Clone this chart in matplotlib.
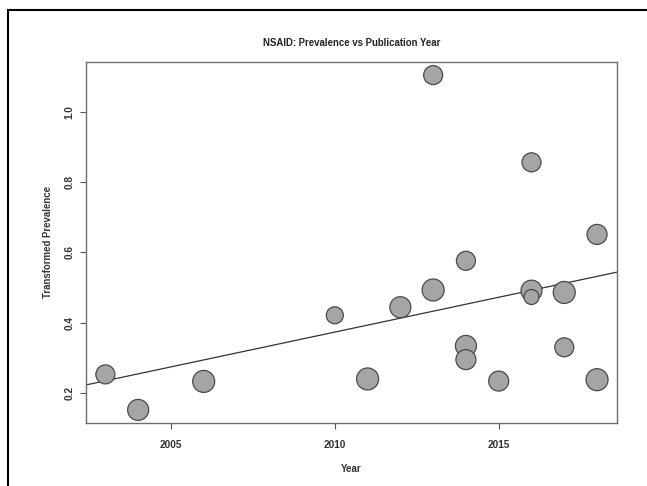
import matplotlib
matplotlib.use("Agg")
import matplotlib.pyplot as plt
from matplotlib.patches import Rectangle
import numpy as np

# study year, transformed prevalence, bubble radius (px, relative weight)
years = [2003, 2004, 2006, 2010, 2011, 2012, 2013, 2013, 2014, 2014, 2014,
         2015, 2016, 2016, 2016, 2017, 2017, 2018, 2018]
prevalence = [0.253, 0.152, 0.233, 0.421, 0.240, 0.444, 0.493, 1.104, 0.576, 0.334, 0.295,
              0.234, 0.491, 0.473, 0.856, 0.486, 0.330, 0.651, 0.238]
radius = [9.5, 10.5, 11, 8.5, 11, 10.5, 11, 9.5, 9.5, 10.5, 10,
          10, 10.5, 7.5, 9.5, 11, 9.5, 10, 11]

# meta-regression line
fit_intercept = 0.2236   # value at fit_x0
fit_x0 = 2002.44
fit_slope = 0.0198

xticks = [2005, 2010, 2015]
yticks = [0.2, 0.4, 0.6, 0.8, 1.0]

plt.rcParams['font.family'] = ['Liberation Sans', 'DejaVu Sans']

W, H = 647, 486
fig = plt.figure(figsize=(W / 100, H / 100), dpi=100)
ax = fig.add_axes([85.7 / W, 1 - 423.3 / H, (616.7 - 85.7) / W, (423.3 - 61.7) / H])

x = np.array(years, dtype=float)
y = np.array(prevalence)
xr = x.max() - x.min()
yr = y.max() - y.min()
ax.set_xlim(x.min() - 0.04 * xr, x.max() + 0.04 * xr)
ax.set_ylim(y.min() - 0.04 * yr, y.max() + 0.04 * yr)

sizes = [(2 * r * 72 / 100) ** 2 for r in radius]
ax.scatter(x, y, s=sizes, c='#a5a5a5', edgecolors='#4a4a4a', linewidths=0.9, zorder=3)

xl = np.array(ax.get_xlim())
ax.plot(xl, fit_intercept + fit_slope * (xl - fit_x0), color='#333333', lw=0.9, zorder=2)
ax.set_xlim(xl)

ax.set_xticks(xticks)
ax.set_xticklabels([str(t) for t in xticks])
ax.set_yticks(yticks)
ax.set_yticklabels([f"{t:.1f}" for t in yticks], rotation=90, va='center')
ax.tick_params(direction='out', length=4, width=0.8, color='#555555',
               labelsize=7.2, labelcolor='#333333')
ax.tick_params(axis='x', pad=8)
ax.tick_params(axis='y', pad=4)
for lab in ax.get_xticklabels() + ax.get_yticklabels():
    lab.set_fontweight('bold')
for sp in ax.spines.values():
    sp.set_color('#6e6e6e')
    sp.set_linewidth(1.0)

ax.set_xlabel("Year", fontsize=7.0, fontweight='bold', color='#333333', labelpad=10)
ax.set_ylabel("Transformed Prevalence", fontsize=6.9, fontweight='bold', color='#333333',
              labelpad=8)
ax.set_title("NSAID: Prevalence vs Publication Year", fontsize=6.9, fontweight='bold',
             color='#222222', pad=11)

# outer frame (only top and left edges fall inside the image)
fig.patches.append(Rectangle((7.5 / W, -0.1), 1.2, 1 - 9.5 / H + 0.1, transform=fig.transFigure,
                             fill=False, edgecolor='black', linewidth=1.5))

fig.savefig("out.png", dpi=100)
